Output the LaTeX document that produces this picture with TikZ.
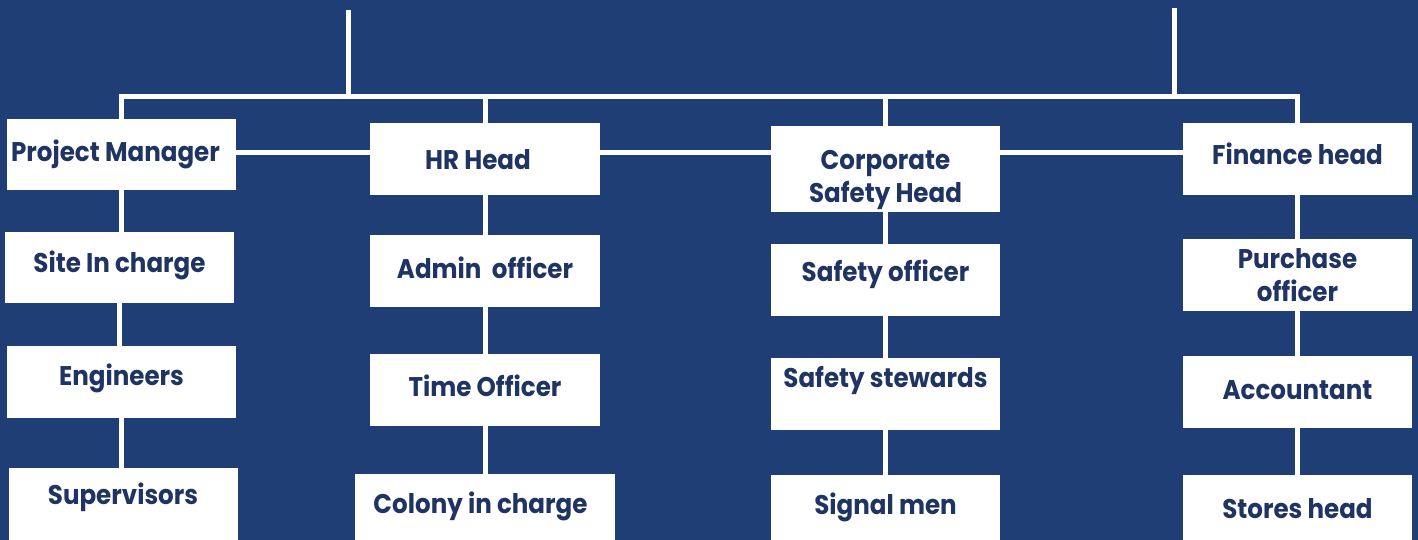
\documentclass[tikz,border=0pt]{standalone}
\usepackage{fontspec}
\setmainfont{Poppins}[FakeStretch=0.91]
\usetikzlibrary{calc}
\definecolor{bgblue}{RGB}{30,62,117}
\definecolor{txtblue}{RGB}{31,52,99}
\newcommand\shifted[3]{\raisebox{#2}[\height][\depth]{\hspace*{#1}#3}}
\tikzset{
  box/.style={fill=white, draw=none, inner sep=0pt, outer sep=0pt,
    minimum width=229pt, minimum height=72pt, text=txtblue,
    font=\fontsize{27}{33}\selectfont\bfseries, align=center},
  conn/.style={draw=white, line width=5pt}
}
\begin{document}
\begin{tikzpicture}[x=1pt,y=-1pt]
\fill[bgblue] (0,0) rectangle (1418,540);
\useasboundingbox (0,0) rectangle (1418,540);
% column 1
\node[box, minimum height=71pt] (pm) at (121.5,154.5) {\shifted{-12pt}{0.5pt}{Project Manager}};
\node[box, minimum height=71pt] (site) at (119.5,267.5) {\shifted{0pt}{2.5pt}{Site In charge}};
\node[box] (eng) at (121.5,382) {\shifted{0pt}{4pt}{Engineers}};
\node[box] (sup) at (123,504) {\shifted{0pt}{7pt}{Supervisors}};
% column 2
\node[box, minimum width=230pt] (hr) at (485,159) {\shifted{-14pt}{-1pt}{HR Head}};
\node[box, minimum width=230pt] (adm) at (485,271) {\shifted{0pt}{3pt}{Admin\ \ officer}};
\node[box, minimum width=230pt] (time) at (485,390) {\shifted{0pt}{4pt}{Time Officer}};
\node[box, minimum width=260pt, minimum height=66pt] (col) at (485,507) {\shifted{-9pt}{1pt}{Colony in charge}};
% column 3
\node[box, minimum height=86pt] (csh) at (885.5,169) {\shifted{0pt}{-10pt}{\begin{tabular}{@{}c@{}}Corporate\\Safety Head\end{tabular}}};
\node[box] (so) at (885.5,280) {\shifted{0pt}{6pt}{Safety officer}};
\node[box] (ss) at (885.5,394) {\shifted{0pt}{14pt}{Safety stewards}};
\node[box, minimum height=65pt] (sig) at (885.5,507.5) {\shifted{0pt}{0pt}{Signal men}};
% column 4
\node[box] (fin) at (1297.5,159) {\shifted{0pt}{5pt}{Finance head}};
\node[box] (pur) at (1297.5,275) {\shifted{0pt}{-3pt}{\begin{tabular}{@{}c@{}}Purchase\\officer\end{tabular}}};
\node[box] (acc) at (1297.5,392) {\shifted{0pt}{2pt}{Accountant}};
\node[box, minimum height=65pt] (sto) at (1297.5,507.5) {\shifted{0pt}{-1pt}{Stores head}};
% helper coordinates
\coordinate (bus) at (0,97);
\coordinate (mid) at (0,153);
\coordinate (t1) at (348,10);
\coordinate (t2) at (1174,8);
% top connectors
\draw[conn] (t1) -- (t1 |- bus);
\draw[conn] (t2) -- (t2 |- bus);
\draw[conn] (pm.north) |- (fin.north |- bus) -- (fin.north);
\draw[conn] (hr.north) -- (hr.north |- bus);
\draw[conn] (csh.north) -- (csh.north |- bus);
% horizontal links between heads
\draw[conn] (pm.east |- mid) -- (hr.west |- mid);
\draw[conn] (hr.east |- mid) -- (csh.west |- mid);
\draw[conn] (csh.east |- mid) -- (fin.west |- mid);
% column links
\draw[conn] (pm.south) -- (pm.south |- site.north);
\draw[conn] (site.south) -- (site.south |- eng.north);
\draw[conn] (eng.south) -- (eng.south |- sup.north);
\draw[conn] (hr.south) -- (hr.south |- adm.north);
\draw[conn] (adm.south) -- (adm.south |- time.north);
\draw[conn] (time.south) -- (time.south |- col.north);
\draw[conn] (csh.south) -- (csh.south |- so.north);
\draw[conn] (so.south) -- (so.south |- ss.north);
\draw[conn] (ss.south) -- (ss.south |- sig.north);
\draw[conn] (fin.south) -- (fin.south |- pur.north);
\draw[conn] (pur.south) -- (pur.south |- acc.north);
\draw[conn] (acc.south) -- (acc.south |- sto.north);
\end{tikzpicture}
\end{document}
